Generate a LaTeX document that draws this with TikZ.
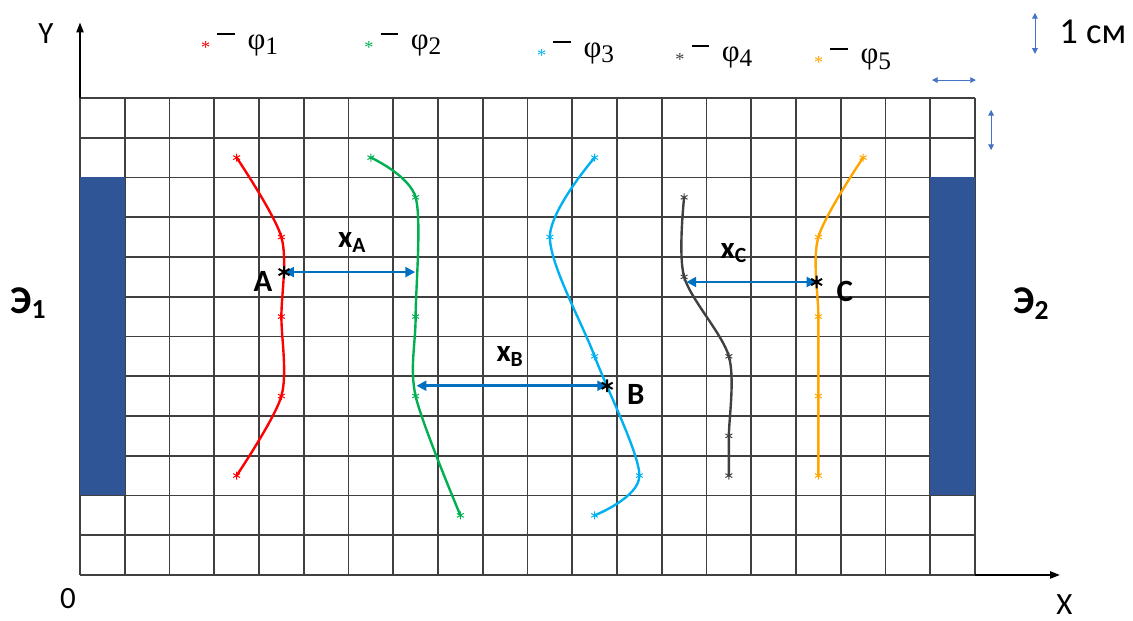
\documentclass[tikz,border=0pt]{standalone}
\usepackage{fontspec}
\setmainfont{Carlito}
\newfontfamily\legfont{Liberation Serif}
\usetikzlibrary{arrows.meta, positioning, plotmarks}

\definecolor{elblue}{HTML}{2F5597}
\definecolor{dimblue}{HTML}{0070C0}
\definecolor{scaleblue}{HTML}{4472C4}
\definecolor{phione}{HTML}{FF0000}
\definecolor{phitwo}{HTML}{00B050}
\definecolor{phithree}{HTML}{00B0F0}
\definecolor{phifour}{HTML}{404040}
\definecolor{phifive}{HTML}{FFA500}

\begin{document}
\begin{tikzpicture}[
    x=1.11875cm, y=0.99375cm,
    gridline/.style={draw=black!75, line width=1.3pt},
    electrode/.style={fill=elblue, draw=none},
    axis/.style={-{Triangle[length=7pt,width=5pt]}, line width=1.3pt},
    field/.style={line width=1.7pt, mark=asterisk, mark size=2.8pt,
                  mark options={line width=0.7pt}},
    dim/.style={{Triangle[length=7pt,width=7pt]}-{Triangle[length=7pt,width=7pt]},
                line width=2pt, draw=dimblue},
    scalebar/.style={{Triangle[length=4pt,width=4pt]}-{Triangle[length=4pt,width=4pt]},
                     line width=0.6pt, draw=scaleblue},
    lbl/.style={font=\fontsize{22}{24}\selectfont\bfseries, inner sep=0pt},
    elbl/.style={font=\fontsize{28}{30}\selectfont\bfseries, inner sep=0pt, anchor=base west},
    axlbl/.style={font=\fontsize{22}{24}\selectfont, inner sep=0pt, anchor=base},
    leg/.style={font=\legfont\fontsize{22}{24}\selectfont, anchor=base west, inner sep=0pt},
]
    \useasboundingbox (-1.788,-1.157) rectangle (23.531,14.465);

    % Grid and electrodes
    \foreach \i in {0,...,20}
        \draw[gridline] (\i,0) -- (\i,12);
    \foreach \j in {0,...,12}
        \draw[gridline] (0,\j) -- (20,\j);
    \fill[electrode] (0,2) rectangle (1,10);
    \fill[electrode] (19,2) rectangle (20,10);
    \node[elbl] (e1) at (-1.56,6.59) {Э\textsubscript{1}};
    \node[elbl] (e2) at (20.85,6.59) {Э\textsubscript{2}};

    % Axes
    \coordinate (O) at (0,0);
    \coordinate (ybot) at (0,12);
    \coordinate (ytop) at (0,13.9);
    \coordinate (xleft) at (20,0);
    \coordinate (xright) at (21.9,0);
    \draw[axis] (ybot) -- (ytop);
    \draw[axis] (xleft) -- (xright);
    \node[axlbl] (ylab) at (-0.76,13.38) {Y};
    \node[axlbl] (xlab) at (22.0,-1.0) {X};
    \node[axlbl] (olab) at (-0.27,-0.84) {0};

    % Scale
    \coordinate (s1) at (21.34,14.14);
    \coordinate (s2) at (21.34,13.11);
    \coordinate (s3) at (19.04,12.45);
    \coordinate (s4) at (20.02,12.45);
    \coordinate (s5) at (20.36,11.70);
    \coordinate (s6) at (20.36,10.69);
    \draw[scalebar] (s1) -- (s2);
    \draw[scalebar] (s3) -- (s4);
    \draw[scalebar] (s5) -- (s6);
    \node[font=\fontsize{26}{28}\selectfont, inner sep=0pt, anchor=base west]
        (cm) at (21.88,13.36) {1 см};

    % Legend
    \foreach \c/\n/\x/\y in {phione/1/2.70/13.23, phitwo/2/6.35/13.23,
                             phithree/3/10.21/13.03, phifour/4/13.30/12.93,
                             phifive/5/16.40/12.86}
        \node[leg] (leg\n) at (\x,\y)
            {\textcolor{\c}{\raisebox{-3pt}{\fontsize{13}{13}\selectfont *}}\hspace{5pt}%
             \rule[10pt]{12.5pt}{1.1pt}\hspace{9pt}φ\raisebox{-4pt}{\fontsize{18}{18}\selectfont \n}};

    % Field lines
    \draw[phione, field] plot[smooth] coordinates
        {(3.5,10.5) (4.5,8.5) (4.5,6.5) (4.5,4.5) (3.5,2.5)};
    \draw[phitwo, field] plot[smooth] coordinates
        {(6.5,10.5) (7.5,9.5) (7.5,6.5) (7.5,4.5) (8.5,1.5)};
    \draw[phithree, field] plot[smooth] coordinates
        {(11.5,10.5) (10.5,8.5) (11.5,5.5) (12.5,2.5) (11.5,1.5)};
    \draw[phifour, field] plot[smooth] coordinates
        {(13.5,9.5) (13.5,7.5) (14.5,5.5) (14.5,3.5) (14.5,2.5)};
    \draw[phifive, field] plot[smooth] coordinates
        {(17.5,10.5) (16.5,8.5) (16.5,6.5) (16.5,4.5) (16.5,2.5)};

    % Points A, B, C
    \coordinate (A) at (4.56,7.62);
    \coordinate (B) at (11.78,4.76);
    \coordinate (C) at (16.46,7.37);
    \coordinate (A2) at (7.49,7.62);
    \coordinate (B1) at (7.52,4.76);
    \coordinate (C1) at (13.55,7.37);
    \draw[dim] (A) -- (A2);
    \draw[dim] (B1) -- (B);
    \draw[dim] (C1) -- (C);
    \draw[black] plot[only marks, mark=asterisk, mark size=4.5pt,
                      mark options={line width=1.4pt}] coordinates {(A) (B) (C)};
    \node[lbl, anchor=base] (Alab) at (4.09,7.12) {A};
    \node[lbl, anchor=base] (Blab) at (12.42,4.28) {B};
    \node[lbl, anchor=base] (Clab) at (17.09,6.87) {C};
    \node[lbl, anchor=base] (xA) at (6.08,8.23) {x\textsubscript{A}};
    \node[lbl, anchor=base] (xB) at (9.61,5.36) {x\textsubscript{B}};
    \node[lbl, anchor=base] (xC) at (14.61,7.97) {x\textsubscript{C}};
\end{tikzpicture}
\end{document}
